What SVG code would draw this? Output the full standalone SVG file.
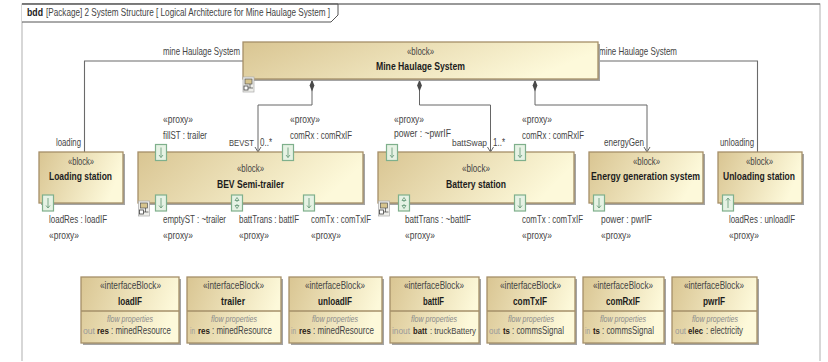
<svg xmlns="http://www.w3.org/2000/svg" width="828" height="362" viewBox="0 0 828 362">
<style>
text{font-family:"Liberation Sans",Arial,sans-serif;font-size:10.500px;fill:#444}
.b{font-weight:bold;fill:#1c1c1c}
.i{font-style:italic;fill:#8a8a8a;font-size:9.500px}
.g{fill:#9a9a9a;font-size:9.500px}
.k{font-weight:bold;fill:#2a2016;font-size:9px}
.s{font-size:9.500px}
.t{font-size:9px}
.box{fill:url(#grad);stroke:#a58f68;stroke-width:1.3}
.sep{fill:none;stroke:#a58f68;stroke-width:1.3}
.sh{fill:#a4a4a4}
.line{fill:none;stroke:#6a6a6a;stroke-width:1.1}
.conn{fill:none;stroke:#666;stroke-width:1}
.port{fill:#e6f2e4;stroke:#7fb08c;stroke-width:1.2}
.pa{fill:none;stroke:#6f9f80;stroke-width:.9}
</style>
<defs>
<linearGradient id="grad" x1="0" y1="0" x2="1" y2="0.25"><stop offset="0" stop-color="#d9c592"/><stop offset="1" stop-color="#fdf9da"/></linearGradient>
<marker id="open" markerWidth="8" markerHeight="8" refX="6" refY="4" orient="auto" markerUnits="userSpaceOnUse"><path d="M1 1L6 4L1 7" fill="none" stroke="#666" stroke-width="1"/></marker>
<marker id="dia" markerWidth="13" markerHeight="6" refX="0" refY="3" orient="auto" markerUnits="userSpaceOnUse"><path d="M0 3L6 .6L12 3L6 5.400Z" fill="#4a4a4a"/></marker>
<g id="pd"><rect class="port" x="0" y="0" width="11" height="16"/><path class="pa" d="M5.500 3V13M3.500 10.500L5.500 13L7.500 10.500"/></g>
<g id="pu"><rect class="port" x="0" y="0" width="11" height="16"/><path class="pa" d="M5.500 3V13M3.500 5.500L5.500 3L7.500 5.500"/></g>
<g id="pb"><rect class="port" x="0" y="0" width="11" height="16"/><path class="pa" d="M5.500 5V7M5.500 9V11M3.500 5.500L5.500 2.500L7.500 5.500ZM3.500 10.500L5.500 13.500L7.500 10.500Z"/></g>
<g id="ic"><rect x="0" y="0" width="11" height="15" fill="#eeeeea" stroke="#aaa" stroke-width=".7"/><rect x="2" y="2" width="7" height="5" fill="#d6c48e" stroke="#555" stroke-width=".7"/><rect x="1" y="9" width="4" height="4" fill="#fff" stroke="#444" stroke-width=".8"/><path d="M5 11H10M7 7V11" stroke="#444" stroke-width=".7"/></g>
</defs>

<g id="frame">
<path d="M22 361V4H820V361" fill="#fff" stroke="#bdbdbd" stroke-width="1.2"/>
<path d="M22 4H338V15L331 22H22" fill="#fff" stroke="#555" stroke-width="1"/>
<path d="M22 4H820" stroke="#555" stroke-width="1"/>
<text x="27" y="16" class="b" textLength="16" lengthAdjust="spacingAndGlyphs">bdd</text>
<text x="46" y="16" textLength="284" lengthAdjust="spacingAndGlyphs">[Package] 2 System Structure [ Logical Architecture for Mine Haulage System ]</text>
</g>

<g id="connectors">
<path class="line" d="M243 61H84.500V152"/>
<path class="line" d="M598 61H757.500V152"/>
<path class="conn" marker-start="url(#dia)" marker-end="url(#open)" d="M312 79.500V105H258V152"/>
<path class="conn" marker-start="url(#dia)" marker-end="url(#open)" d="M419.500 79.500V105H490.500V152"/>
<path class="conn" marker-start="url(#dia)" marker-end="url(#open)" d="M535 79.500V105H647V152"/>
<text x="163" y="55" textLength="77" lengthAdjust="spacingAndGlyphs">mine Haulage System</text>
<text x="599" y="55" textLength="78" lengthAdjust="spacingAndGlyphs">mine Haulage System</text>
<text x="56" y="146" textLength="25" lengthAdjust="spacingAndGlyphs">loading</text>
<text x="229" y="146" class="t" textLength="25" lengthAdjust="spacingAndGlyphs">BEVST</text>
<text x="260" y="146" textLength="12" lengthAdjust="spacingAndGlyphs">0..*</text>
<text x="452" y="146" class="s" textLength="35" lengthAdjust="spacingAndGlyphs">battSwap</text>
<text x="493" y="146" textLength="12" lengthAdjust="spacingAndGlyphs">1..*</text>
<text x="604" y="146" textLength="40" lengthAdjust="spacingAndGlyphs">energyGen</text>
<text x="720" y="146" textLength="34" lengthAdjust="spacingAndGlyphs">unloading</text>
</g>

<g id="mine-haulage-system">
<rect class="sh" x="245" y="44" width="355" height="37"/>
<rect class="box" x="243" y="42" width="355" height="37"/>
<text x="407" y="55" textLength="27" lengthAdjust="spacingAndGlyphs">«block»</text>
<text x="376" y="70" class="b" textLength="89" lengthAdjust="spacingAndGlyphs">Mine Haulage System</text>
<use href="#ic" x="243" y="77"/>
</g>

<g id="loading-station">
<rect class="sh" x="41" y="154" width="84" height="51"/>
<rect class="box" x="39" y="152" width="84" height="51"/>
<text x="68" y="165" textLength="26" lengthAdjust="spacingAndGlyphs">«block»</text>
<text x="49" y="180" class="b" textLength="63" lengthAdjust="spacingAndGlyphs">Loading station</text>
<use href="#pd" x="42.500" y="195"/>
<text x="49" y="223" textLength="58" lengthAdjust="spacingAndGlyphs">loadRes : loadIF</text>
<text x="49" y="239" textLength="30" lengthAdjust="spacingAndGlyphs">«proxy»</text>
</g>

<g id="bev-semi-trailer">
<rect class="sh" x="140" y="154" width="225" height="51"/>
<rect class="box" x="138" y="152" width="225" height="51"/>
<text x="237" y="172" textLength="27" lengthAdjust="spacingAndGlyphs">«block»</text>
<text x="217" y="188" class="b" textLength="67" lengthAdjust="spacingAndGlyphs">BEV Semi-trailer</text>
<use href="#pd" x="155.500" y="144.500"/>
<use href="#pd" x="282.500" y="144.500"/>
<use href="#pd" x="155.500" y="195"/>
<use href="#pb" x="231.500" y="195"/>
<use href="#pd" x="303.500" y="195"/>
<use href="#ic" x="138.500" y="201"/>
<text x="163" y="123" textLength="30" lengthAdjust="spacingAndGlyphs">«proxy»</text>
<text x="163" y="139" textLength="44" lengthAdjust="spacingAndGlyphs">fillST : trailer</text>
<text x="290" y="123" textLength="30" lengthAdjust="spacingAndGlyphs">«proxy»</text>
<text x="290" y="139" textLength="62" lengthAdjust="spacingAndGlyphs">comRx : comRxIF</text>
<text x="163" y="223" textLength="63" lengthAdjust="spacingAndGlyphs">emptyST : ~trailer</text>
<text x="163" y="239" textLength="30" lengthAdjust="spacingAndGlyphs">«proxy»</text>
<text x="239" y="223" textLength="60" lengthAdjust="spacingAndGlyphs">battTrans : battIF</text>
<text x="239" y="239" textLength="30" lengthAdjust="spacingAndGlyphs">«proxy»</text>
<text x="311" y="223" textLength="60" lengthAdjust="spacingAndGlyphs">comTx : comTxIF</text>
<text x="311" y="239" textLength="30" lengthAdjust="spacingAndGlyphs">«proxy»</text>
</g>

<g id="battery-station">
<rect class="sh" x="380" y="154" width="196" height="51"/>
<rect class="box" x="378" y="152" width="196" height="51"/>
<text x="462" y="172" textLength="28" lengthAdjust="spacingAndGlyphs">«block»</text>
<text x="446" y="188" class="b" textLength="60" lengthAdjust="spacingAndGlyphs">Battery station</text>
<use href="#pd" x="386.500" y="144.500"/>
<use href="#pd" x="514.500" y="144.500"/>
<use href="#pb" x="398.500" y="195"/>
<use href="#pd" x="514.500" y="195"/>
<use href="#ic" x="378.500" y="201"/>
<text x="394" y="123" textLength="30" lengthAdjust="spacingAndGlyphs">«proxy»</text>
<text x="394" y="137" textLength="57" lengthAdjust="spacingAndGlyphs">power : ~pwrIF</text>
<text x="522" y="123" textLength="30" lengthAdjust="spacingAndGlyphs">«proxy»</text>
<text x="522" y="139" textLength="62" lengthAdjust="spacingAndGlyphs">comRx : comRxIF</text>
<text x="405" y="223" textLength="66" lengthAdjust="spacingAndGlyphs">battTrans : ~battIF</text>
<text x="405" y="239" textLength="30" lengthAdjust="spacingAndGlyphs">«proxy»</text>
<text x="522" y="223" textLength="61" lengthAdjust="spacingAndGlyphs">comTx : comTxIF</text>
<text x="522" y="239" textLength="30" lengthAdjust="spacingAndGlyphs">«proxy»</text>
</g>

<g id="energy-generation-system">
<rect class="sh" x="591" y="154" width="114" height="51"/>
<rect class="box" x="589" y="152" width="114" height="51"/>
<text x="633" y="165" textLength="27" lengthAdjust="spacingAndGlyphs">«block»</text>
<text x="591" y="180" class="b" textLength="109" lengthAdjust="spacingAndGlyphs">Energy generation system</text>
<use href="#pd" x="593.500" y="195"/>
<text x="601" y="223" textLength="51" lengthAdjust="spacingAndGlyphs">power : pwrIF</text>
<text x="601" y="239" textLength="30" lengthAdjust="spacingAndGlyphs">«proxy»</text>
</g>

<g id="unloading-station">
<rect class="sh" x="720" y="154" width="84" height="51"/>
<rect class="box" x="718" y="152" width="84" height="51"/>
<text x="746" y="165" textLength="27" lengthAdjust="spacingAndGlyphs">«block»</text>
<text x="723" y="180" class="b" textLength="72" lengthAdjust="spacingAndGlyphs">Unloading station</text>
<use href="#pu" x="722.500" y="195"/>
<text x="729" y="223" textLength="66" lengthAdjust="spacingAndGlyphs">loadRes : unloadIF</text>
<text x="729" y="239" textLength="30" lengthAdjust="spacingAndGlyphs">«proxy»</text>
</g>

<g id="loadIF">
<rect class="sh" x="83" y="279" width="98" height="66"/>
<rect class="box" x="81" y="277" width="98" height="66"/>
<path class="sep" d="M81 311H179"/>
<text x="100" y="289" textLength="61" lengthAdjust="spacingAndGlyphs">«interfaceBlock»</text>
<text x="118" y="305" class="b" textLength="24" lengthAdjust="spacingAndGlyphs">loadIF</text>
<text x="107" y="322" class="i" textLength="46" lengthAdjust="spacingAndGlyphs">flow properties</text>
<text x="83" y="334" class="g" textLength="12" lengthAdjust="spacingAndGlyphs">out</text>
<text x="97" y="334" class="k" textLength="12" lengthAdjust="spacingAndGlyphs">res</text>
<text x="111" y="334" textLength="60" lengthAdjust="spacingAndGlyphs">: minedResource</text>
</g>

<g id="trailer">
<rect class="sh" x="189" y="279" width="94" height="66"/>
<rect class="box" x="187" y="277" width="94" height="66"/>
<path class="sep" d="M187 311H281"/>
<text x="203" y="289" textLength="61" lengthAdjust="spacingAndGlyphs">«interfaceBlock»</text>
<text x="221" y="305" class="b" textLength="24" lengthAdjust="spacingAndGlyphs">trailer</text>
<text x="211" y="322" class="i" textLength="46" lengthAdjust="spacingAndGlyphs">flow properties</text>
<text x="190" y="334" class="g" textLength="5" lengthAdjust="spacingAndGlyphs">in</text>
<text x="198" y="334" class="k" textLength="12" lengthAdjust="spacingAndGlyphs">res</text>
<text x="212" y="334" textLength="60" lengthAdjust="spacingAndGlyphs">: minedResource</text>
</g>

<g id="unloadIF">
<rect class="sh" x="291" y="279" width="93" height="66"/>
<rect class="box" x="289" y="277" width="93" height="66"/>
<path class="sep" d="M289 311H382"/>
<text x="305" y="289" textLength="60" lengthAdjust="spacingAndGlyphs">«interfaceBlock»</text>
<text x="318" y="305" class="b" textLength="34" lengthAdjust="spacingAndGlyphs">unloadIF</text>
<text x="312" y="322" class="i" textLength="46" lengthAdjust="spacingAndGlyphs">flow properties</text>
<text x="291" y="334" class="g" textLength="5" lengthAdjust="spacingAndGlyphs">in</text>
<text x="299" y="334" class="k" textLength="12" lengthAdjust="spacingAndGlyphs">res</text>
<text x="313" y="334" textLength="61" lengthAdjust="spacingAndGlyphs">: minedResource</text>
</g>

<g id="battIF">
<rect class="sh" x="392" y="279" width="89" height="66"/>
<rect class="box" x="390" y="277" width="89" height="66"/>
<path class="sep" d="M390 311H479"/>
<text x="404" y="289" textLength="60" lengthAdjust="spacingAndGlyphs">«interfaceBlock»</text>
<text x="423" y="305" class="b" textLength="21" lengthAdjust="spacingAndGlyphs">battIF</text>
<text x="411" y="322" class="i" textLength="46" lengthAdjust="spacingAndGlyphs">flow properties</text>
<text x="392" y="334" class="g" textLength="18" lengthAdjust="spacingAndGlyphs">inout</text>
<text x="413" y="334" class="k" textLength="14" lengthAdjust="spacingAndGlyphs">batt</text>
<text x="430" y="334" class="s" textLength="46" lengthAdjust="spacingAndGlyphs">: truckBattery</text>
</g>

<g id="comTxIF">
<rect class="sh" x="489" y="279" width="88" height="66"/>
<rect class="box" x="487" y="277" width="88" height="66"/>
<path class="sep" d="M487 311H575"/>
<text x="500" y="289" textLength="61" lengthAdjust="spacingAndGlyphs">«interfaceBlock»</text>
<text x="513" y="305" class="b" textLength="34" lengthAdjust="spacingAndGlyphs">comTxIF</text>
<text x="508" y="322" class="i" textLength="46" lengthAdjust="spacingAndGlyphs">flow properties</text>
<text x="489" y="334" class="g" textLength="11" lengthAdjust="spacingAndGlyphs">out</text>
<text x="503" y="334" class="k" textLength="7" lengthAdjust="spacingAndGlyphs">ts</text>
<text x="512" y="334" textLength="52" lengthAdjust="spacingAndGlyphs">: commsSignal</text>
</g>

<g id="comRxIF">
<rect class="sh" x="585" y="279" width="81" height="66"/>
<rect class="box" x="583" y="277" width="81" height="66"/>
<path class="sep" d="M583 311H664"/>
<text x="593" y="289" textLength="60" lengthAdjust="spacingAndGlyphs">«interfaceBlock»</text>
<text x="606" y="305" class="b" textLength="34" lengthAdjust="spacingAndGlyphs">comRxIF</text>
<text x="600" y="322" class="i" textLength="46" lengthAdjust="spacingAndGlyphs">flow properties</text>
<text x="585" y="334" class="g" textLength="5" lengthAdjust="spacingAndGlyphs">in</text>
<text x="593" y="334" class="k" textLength="7" lengthAdjust="spacingAndGlyphs">ts</text>
<text x="602" y="334" textLength="52" lengthAdjust="spacingAndGlyphs">: commsSignal</text>
</g>

<g id="pwrIF">
<rect class="sh" x="674" y="279" width="85" height="66"/>
<rect class="box" x="672" y="277" width="85" height="66"/>
<path class="sep" d="M672 311H757"/>
<text x="684" y="289" textLength="60" lengthAdjust="spacingAndGlyphs">«interfaceBlock»</text>
<text x="703" y="305" class="b" textLength="22" lengthAdjust="spacingAndGlyphs">pwrIF</text>
<text x="692" y="322" class="i" textLength="46" lengthAdjust="spacingAndGlyphs">flow properties</text>
<text x="675" y="334" class="g" textLength="11" lengthAdjust="spacingAndGlyphs">out</text>
<text x="688" y="334" class="k" textLength="15" lengthAdjust="spacingAndGlyphs">elec</text>
<text x="706" y="334" textLength="37" lengthAdjust="spacingAndGlyphs">: electricity</text>
</g>
</svg>
